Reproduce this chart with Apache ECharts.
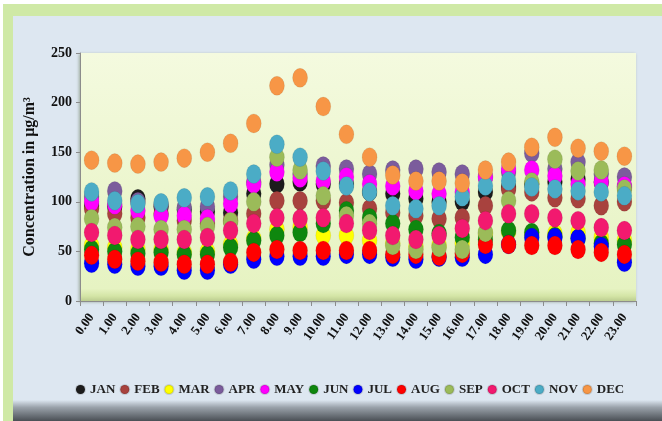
<!DOCTYPE html>
<html>
<head>
<meta charset="utf-8">
<script src="https://cdn.jsdelivr.net/npm/echarts@6/dist/echarts.min.js"></script>
<style>
html,body{margin:0;padding:0;background:#ffffff;}
#chart{width:662px;height:421px;}
</style>
</head>
<body>
<div id="chart"></div>
<script>
var hours = ['0.00','1.00','2.00','3.00','4.00','5.00','6.00','7.00','8.00','9.00','10.00','11.00','12.00','13.00','14.00','15.00','16.00','17.00','18.00','19.00','20.00','21.00','22.00','23.00'];
var months = ['JAN','FEB','MAR','APR','MAY','JUN','JUL','AUG','SEP','OCT','NOV','DEC'];
var yTicks = [0, 50, 100, 150, 200, 250];

var jan = [96,95,103,95,92,90,89,108,118,120,118,118,110,108,103,100,100,110,115,118,120,123,120,115];
var feb = [93,88,84,88,81,78,81,88,101,101,101,99,93,89,86,83,84,96,113,110,104,103,96,100];
var mar = [56,54,52,52,49,50,57,63,72,74,66,66,61,58,55,56,58,68,70,66,68,69,64,61];
var apr = [105,111,100,97,94,95,105,120,137,128,136,133,128,132,133,130,128,125,130,149,133,140,128,125];
var may = [100,97,91,86,86,83,98,118,130,124,121,125,118,116,111,108,110,125,133,132,126,118,120,116];
var jun = [52,50,48,49,47,47,54,61,66,69,78,91,84,78,72,68,64,62,71,69,65,63,58,57];
var jul = [38,37,35,35,31,31,37,42,45,45,45,47,47,44,42,44,44,47,57,64,64,63,55,39];
var aug = [46,42,40,39,37,37,39,49,52,51,51,51,51,47,47,45,48,57,57,56,56,52,49,47];
var sep = [83,74,75,72,72,75,80,100,145,132,106,86,78,56,52,54,52,69,101,120,143,131,132,113];
var oct = [69,66,62,62,62,64,71,78,84,83,84,78,71,66,62,66,73,81,88,88,84,81,74,71];
var nov = [110,101,98,99,104,105,111,128,158,145,131,116,110,96,93,96,105,116,121,115,113,111,110,106];
var dec = [142,139,138,140,144,150,159,179,217,225,196,168,145,127,121,121,119,132,140,155,165,154,151,146];

var seriesData = [jan,feb,mar,apr,may,jun,jul,aug,sep,oct,nov,dec];
var colors = ['#1c1c1c','#a8423e','#ffff00','#7b5c9c','#ff00ff','#0e870e','#0000ff','#ff0000','#9bbb59','#f2196f','#4bacc6','#f79646'];

var serif = "'Liberation Serif','Times New Roman',serif";

var chart = echarts.init(document.getElementById('chart'), null, {renderer:'canvas'});

var series = months.map(function(m, i){
  return {
    name: m,
    type: 'scatter',
    data: seriesData[i],
    symbol: 'circle',
    symbolSize: [15, 19],
    itemStyle: {color: colors[i], opacity: 1, borderColor: 'rgba(0,0,0,0.12)', borderWidth: 0.6},
    emphasis: {disabled: true}
  };
});

chart.setOption({
  animation: false,
  backgroundColor: '#ffffff',
  color: colors,
  graphic: [
    {type:'rect', z:-10, shape:{x:0,y:0,width:662,height:421}, style:{fill:'#ffffff'}},
    {type:'rect', z:-9, shape:{x:3,y:4,width:659,height:417}, style:{fill:'#cfe9a6'}},
    {type:'rect', z:-8, shape:{x:13,y:16,width:649,height:405}, style:{fill:'#dde7f1'}},
    {type:'rect', z:-7, shape:{x:13,y:400,width:649,height:21}, style:{fill:{type:'linear',x:0,y:0,x2:0,y2:1,colorStops:[{offset:0,color:'rgba(221,231,241,1)'},{offset:0.35,color:'#9aa2aa'},{offset:1,color:'#4a4f55'}]}}}
  ],
  grid: {
    left: 80, right: 26, top: 53, bottom: 120,
    show: true,
    borderWidth: 0,
    backgroundColor: {type:'linear',x:0,y:0,x2:0,y2:1,colorStops:[
      {offset:0,color:'#f4fadf'},{offset:0.95,color:'#e6f3c2'},{offset:0.98,color:'#d4e5a6'},{offset:1,color:'#bccd90'}]},
    shadowColor: 'rgba(60,80,30,0.4)', shadowBlur: 3, shadowOffsetX: -1, shadowOffsetY: 1
  },
  legend: {
    data: months,
    bottom: 20,
    left: 70,
    icon: 'circle',
    itemWidth: 9, itemHeight: 9, itemGap: 4,
    textStyle: {fontFamily: serif, fontWeight: 'bold', fontSize: 13, color: '#222'}
  },
  xAxis: {
    type: 'category',
    data: hours,
    boundaryGap: true,
    axisLine: {show: true, lineStyle: {color: '#8c8c8c', width: 1}},
    axisTick: {show: true, length: 5, lineStyle: {color: '#8c8c8c'}},
    axisLabel: {interval: 0, rotate: 55, margin: 14, fontFamily: serif, fontWeight: 'bold', fontSize: 13, color: '#111'},
    splitLine: {show: false}
  },
  yAxis: {
    type: 'value',
    min: yTicks[0], max: yTicks[yTicks.length-1], interval: 50,
    name: 'Concentration in μg/m³',
    nameLocation: 'middle',
    nameGap: 42,
    nameTextStyle: {fontFamily: serif, fontWeight: 'bold', fontSize: 16, color: '#111'},
    axisLine: {show: true, lineStyle: {color: '#8c8c8c', width: 1}},
    axisTick: {show: true, length: 4, lineStyle: {color: '#8c8c8c'}},
    axisLabel: {margin: 8, fontFamily: serif, fontWeight: 'bold', fontSize: 14, color: '#111'},
    splitLine: {show: false}
  },
  series: series
});
</script>
</body>
</html>
